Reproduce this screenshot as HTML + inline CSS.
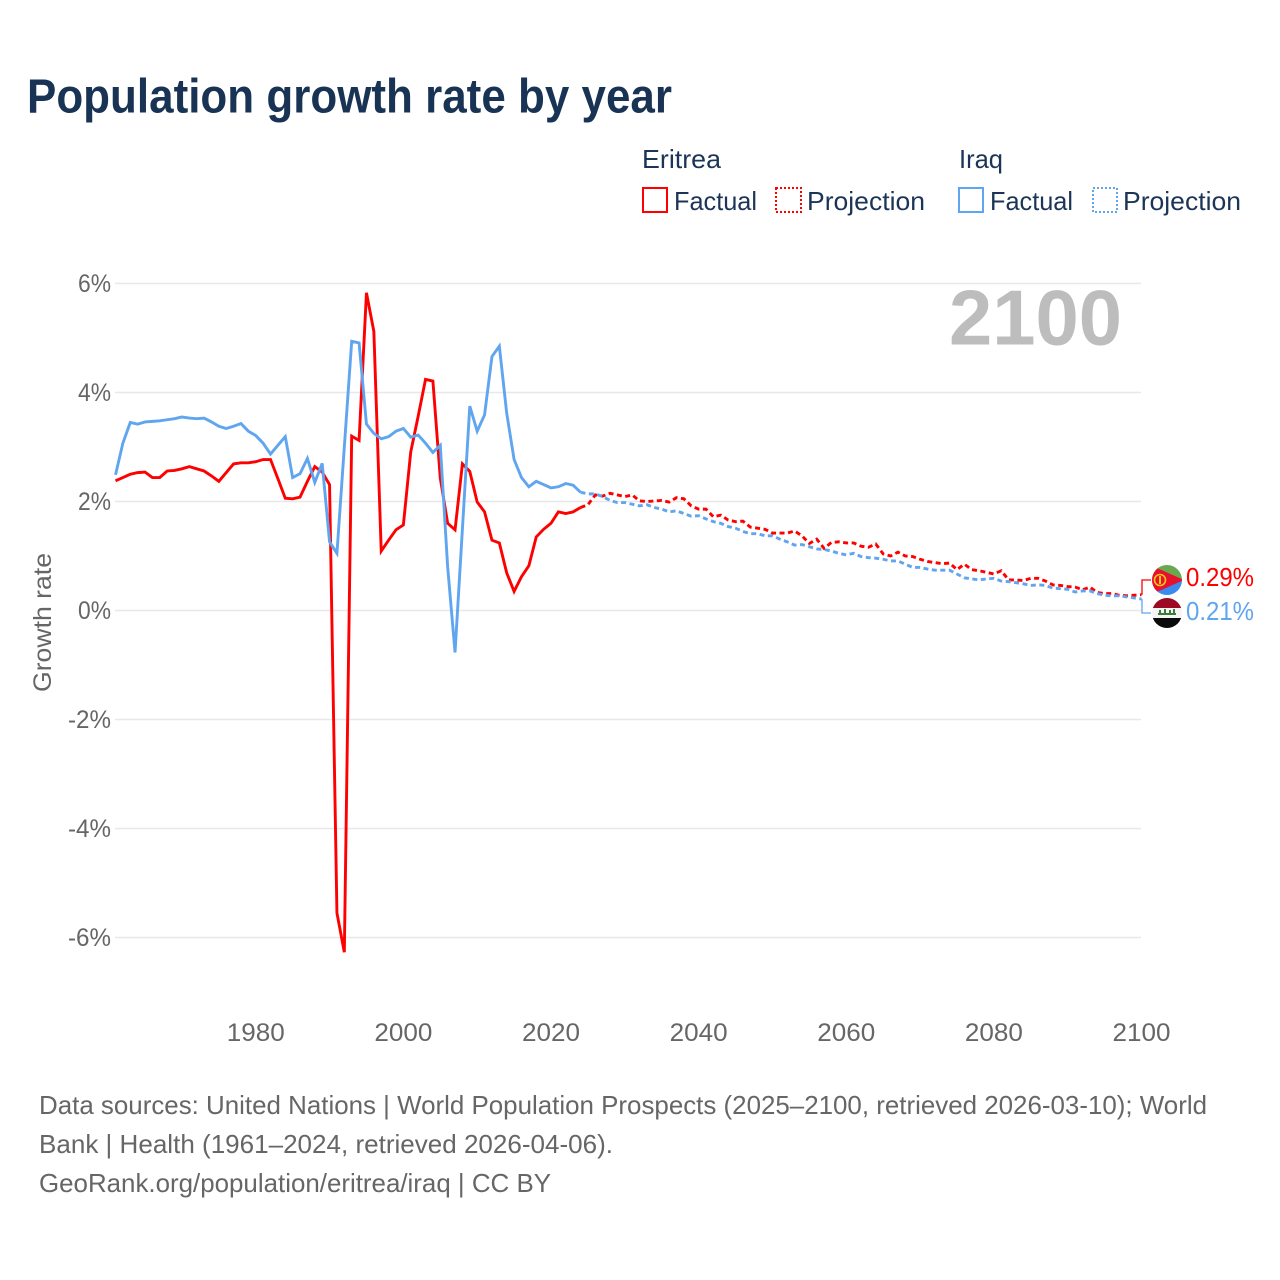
<!DOCTYPE html>
<html lang="en">
<head>
<meta charset="utf-8">
<title>Population growth rate by year</title>
<style>
html,body{margin:0;padding:0;background:#fff;}
svg{display:block;font-family:"Liberation Sans",sans-serif;}
</style>
</head>
<body>
<svg id="chart" width="1280" height="1280" viewBox="0 0 1280 1280" xmlns="http://www.w3.org/2000/svg">
  <rect x="0" y="0" width="1280" height="1280" fill="#fff"/>
  <text x="27" y="112.5" font-size="48" font-weight="700" fill="#193354" textLength="645" lengthAdjust="spacingAndGlyphs">Population growth rate by year</text>

  <g font-size="26" fill="#1c3557">
    <text x="642" y="168" textLength="79" lengthAdjust="spacingAndGlyphs">Eritrea</text>
    <text x="959" y="168" textLength="44" lengthAdjust="spacingAndGlyphs">Iraq</text>
    <rect x="643" y="188" width="24" height="24" fill="none" stroke="#ff0000" stroke-width="2"/>
    <text x="674" y="210" textLength="83" lengthAdjust="spacingAndGlyphs">Factual</text>
    <rect x="776" y="188" width="25" height="24" fill="none" stroke="#ff0000" stroke-width="2" stroke-dasharray="2 2"/>
    <text x="807" y="210" textLength="118" lengthAdjust="spacingAndGlyphs">Projection</text>
    <rect x="959" y="188" width="24" height="24" fill="none" stroke="#60a5f0" stroke-width="2"/>
    <text x="990" y="210" textLength="83" lengthAdjust="spacingAndGlyphs">Factual</text>
    <rect x="1093" y="188" width="24" height="24" fill="none" stroke="#60a5f0" stroke-width="2" stroke-dasharray="2 2"/>
    <text x="1123" y="210" textLength="118" lengthAdjust="spacingAndGlyphs">Projection</text>
  </g>

  <g id="grid"></g>
  <g id="yTicks"></g>
  <g id="xTicks"></g>

  <text x="949" y="344.5" font-size="78" font-weight="700" fill="#bdbdbd" textLength="173" lengthAdjust="spacingAndGlyphs">2100</text>
  <text transform="translate(51,692) rotate(-90)" font-size="25" fill="#666" textLength="139" lengthAdjust="spacingAndGlyphs">Growth rate</text>

  <g id="series"></g>
  <g id="connectors"></g>

  <defs>
    <clipPath id="flagClipEr"><circle cx="1167" cy="580" r="15"/></clipPath>
    <clipPath id="flagClipIq"><circle cx="1167" cy="613" r="15"/></clipPath>
  </defs>
  <g clip-path="url(#flagClipEr)">
    <rect x="1152" y="565" width="30" height="15" fill="#6aa84f"/>
    <rect x="1152" y="580" width="30" height="15" fill="#3b8af0"/>
    <polygon points="1150,565 1150,595 1184,580" fill="#e8112d"/>
    <circle cx="1160" cy="580" r="5.5" fill="none" stroke="#f5c518" stroke-width="1.6"/>
    <rect x="1159" y="576" width="2" height="8" fill="#f5c518"/>
  </g>
  <g clip-path="url(#flagClipIq)">
    <rect x="1152" y="598" width="30" height="10" fill="#9c0a24"/>
    <rect x="1152" y="608" width="30" height="10" fill="#f4f4f4"/>
    <rect x="1152" y="618" width="30" height="10" fill="#0a0a0a"/>
    <rect x="1158" y="613" width="18" height="2" fill="#3c7a3c"/>
    <rect x="1159" y="610" width="2" height="4" fill="#3c7a3c"/>
    <rect x="1164" y="609" width="2" height="5" fill="#3c7a3c"/>
    <rect x="1169" y="610" width="2" height="4" fill="#3c7a3c"/>
    <rect x="1173" y="609" width="2" height="5" fill="#3c7a3c"/>
  </g>
  <g id="endLabels"></g>

  <g font-size="26" fill="#666">
    <text x="39" y="1114" textLength="1168" lengthAdjust="spacingAndGlyphs">Data sources: United Nations | World Population Prospects (2025–2100, retrieved 2026-03-10); World</text>
    <text x="39" y="1153" textLength="574" lengthAdjust="spacingAndGlyphs">Bank | Health (1961–2024, retrieved 2026-04-06).</text>
    <text x="39" y="1192" textLength="512" lengthAdjust="spacingAndGlyphs">GeoRank.org/population/eritrea/iraq | CC BY</text>
  </g>
</svg>
<script>
const firstFactualYear = 1961;
const firstProjectionYear = 2024;
const yTickValues = [6, 4, 2, 0, -2, -4, -6];
const yTickLabels = ["6%", "4%", "2%", "0%", "-2%", "-4%", "-6%"];
const xTickValues = [1980, 2000, 2020, 2040, 2060, 2080, 2100];
const xTickLabels = ["1980", "2000", "2020", "2040", "2060", "2080", "2100"];

const eritreaFactual = [
  2.38,2.44,2.50,2.53,2.54,2.44,2.44,2.56,2.57,2.60,
  2.64,2.60,2.56,2.47,2.37,2.53,2.69,2.71,2.71,2.73,
  2.77,2.77,2.42,2.06,2.05,2.08,2.37,2.64,2.54,2.31,
  -5.55,-6.27,3.20,3.12,5.83,5.12,1.09,1.29,1.48,1.57,
  2.91,3.56,4.24,4.21,2.43,1.60,1.48,2.69,2.55,1.99,
  1.81,1.29,1.24,0.69,0.35,0.62,0.82,1.35,1.49,1.60,
  1.81,1.78,1.81,1.89
];
const eritreaProjection = [
  1.89,1.94,2.12,2.10,2.15,2.12,2.09,2.12,2.01,2.00,2.01,2.02,1.99,2.07,2.05,1.92,
  1.86,1.86,1.72,1.75,1.66,1.63,1.64,1.53,1.51,1.49,1.42,1.42,1.42,1.46,1.37,1.23,
  1.31,1.14,1.25,1.26,1.24,1.24,1.18,1.16,1.22,1.04,1.00,1.07,1.00,0.99,0.94,0.90,
  0.88,0.86,0.87,0.75,0.85,0.75,0.73,0.70,0.67,0.73,0.56,0.56,0.55,0.59,0.59,0.54,
  0.47,0.46,0.44,0.43,0.38,0.43,0.33,0.31,0.31,0.28,0.27,0.28,0.29
];
const iraqFactual = [
  2.49,3.07,3.45,3.42,3.46,3.47,3.48,3.50,3.52,3.55,
  3.53,3.52,3.53,3.46,3.38,3.34,3.38,3.43,3.29,3.21,
  3.07,2.87,3.03,3.19,2.44,2.51,2.79,2.35,2.70,1.26,
  1.05,3.00,4.94,4.91,3.42,3.25,3.15,3.19,3.29,3.34,
  3.18,3.22,3.07,2.90,3.03,0.80,-0.77,1.50,3.75,3.29,
  3.59,4.66,4.85,3.62,2.77,2.44,2.27,2.37,2.31,2.25,
  2.27,2.33,2.30,2.17
];
const iraqProjection = [
  2.17,2.14,2.14,2.09,2.02,1.98,1.98,1.95,1.92,1.94,1.89,1.86,1.81,1.83,1.78,1.73,
  1.74,1.68,1.63,1.60,1.54,1.51,1.45,1.41,1.41,1.37,1.37,1.31,1.26,1.20,1.21,1.17,
  1.13,1.12,1.09,1.05,1.02,1.05,0.99,0.97,0.96,0.94,0.91,0.91,0.85,0.79,0.79,0.76,
  0.74,0.74,0.74,0.67,0.60,0.58,0.56,0.58,0.59,0.54,0.53,0.51,0.49,0.46,0.47,0.46,
  0.41,0.40,0.39,0.34,0.36,0.36,0.31,0.28,0.27,0.27,0.25,0.23,0.21
];

const NS = "http://www.w3.org/2000/svg";
const RED = "#ff0000";
const BLUE = "#60a5f0";

function xScale(year) { return 115.5 + (year - 1961) * (1141.5 - 115.5) / 139; }
function yScale(value) { return 610.5 - value * 54.5; }
function make(tag, attrs, parent) {
  const el = document.createElementNS(NS, tag);
  for (const k in attrs) el.setAttribute(k, attrs[k]);
  parent.appendChild(el);
  return el;
}
function linePath(startYear, values) {
  return values.map(function (v, i) {
    return (i ? "L" : "M") + xScale(startYear + i).toFixed(2) + " " + yScale(v).toFixed(2);
  }).join(" ");
}

const grid = document.getElementById("grid");
const yTicks = document.getElementById("yTicks");
yTickValues.forEach(function (v, i) {
  const line = make("line", { x1: 115, x2: 1141, y1: yScale(v), y2: yScale(v), stroke: "#e8e8e8", "stroke-width": 1.5 }, grid);
  
  
  const label = make("text", { x: 111, y: yScale(v) + 8.5, "text-anchor": "end", "font-size": 25, fill: "#666", textLength: yTickLabels[i].length === 3 ? 43 : 33, lengthAdjust: "spacingAndGlyphs" }, yTicks);
  label.textContent = yTickLabels[i];
  
  
});

const xTicks = document.getElementById("xTicks");
xTickValues.forEach(function (year, i) {
  const label = make("text", { x: xScale(year), y: 1041, "text-anchor": "middle", "font-size": 25, fill: "#666", textLength: 58, lengthAdjust: "spacingAndGlyphs" }, xTicks);
  label.textContent = xTickLabels[i];
  
  
});

const series = document.getElementById("series");
const erFactualLine = make("path", { d: linePath(firstFactualYear, eritreaFactual), fill: "none", stroke: RED, "stroke-width": 2.9, "stroke-linejoin": "miter" }, series);


const erProjectionLine = make("path", { d: linePath(firstProjectionYear, eritreaProjection), fill: "none", stroke: RED, "stroke-width": 2.9, "stroke-dasharray": "5 3.5" }, series);


const iqFactualLine = make("path", { d: linePath(firstFactualYear, iraqFactual), fill: "none", stroke: BLUE, "stroke-width": 2.9, "stroke-linejoin": "miter" }, series);


const iqProjectionLine = make("path", { d: linePath(firstProjectionYear, iraqProjection), fill: "none", stroke: BLUE, "stroke-width": 2.9, "stroke-dasharray": "5 3.5" }, series);



const erLast = eritreaProjection[eritreaProjection.length - 1];
const iqLast = iraqProjection[iraqProjection.length - 1];
const connectors = document.getElementById("connectors");
const endX = xScale(2100) + 0.5;
const erConnector = make("path", { d: "M" + endX + " " + yScale(erLast) + " L" + endX + " 580 L1151 580", fill: "none", stroke: RED, "stroke-width": 1.3 }, connectors);


const iqConnector = make("path", { d: "M" + endX + " " + yScale(iqLast) + " L" + endX + " 613 L1151 613", fill: "none", stroke: BLUE, "stroke-width": 1.3 }, connectors);



const endLabels = document.getElementById("endLabels");
const erLabel = make("text", { x: 1186, y: 586, "font-size": 26, fill: RED, textLength: 68, lengthAdjust: "spacingAndGlyphs" }, endLabels);
erLabel.textContent = erLast.toFixed(2) + "%";


const iqLabel = make("text", { x: 1186, y: 620, "font-size": 26, fill: BLUE, textLength: 68, lengthAdjust: "spacingAndGlyphs" }, endLabels);
iqLabel.textContent = iqLast.toFixed(2) + "%";


</script>
</body>
</html>
